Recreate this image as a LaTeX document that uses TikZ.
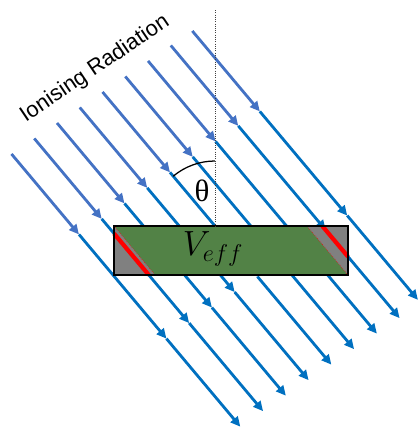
\documentclass[tikz,border=0pt]{standalone}
\usepackage{fontspec}
\setmainfont{Liberation Sans}
\newfontfamily\thetafont{Liberation Serif}
\usepackage{tikz}
\usetikzlibrary{calc}
\usetikzlibrary{arrows.meta}
\definecolor{RayLight}{RGB}{68,114,196}
\definecolor{RayDark}{RGB}{0,112,192}
\definecolor{DetGreen}{RGB}{82,130,70}
\tikzset{inray/.style={draw=RayLight,line width=2pt,-{Triangle[length=7pt,width=6.5pt]}}, outray/.style={draw=RayDark,line width=2pt,-{Triangle[length=7pt,width=6.5pt]}}, dead/.style={fill=gray,draw=red,densely dotted,line width=0.4pt}, track/.style={draw=red,line width=3pt}}

\begin{document}
\begin{tikzpicture}
\useasboundingbox (0,0) rectangle (10.5,-10.725);
\coordinate (s1) at (0.287,-3.849);
\coordinate (s2) at (0.856,-3.461);
\coordinate (s3) at (1.425,-3.074);
\coordinate (s4) at (1.994,-2.686);
\coordinate (s5) at (2.563,-2.299);
\coordinate (s6) at (3.132,-1.911);
\coordinate (s7) at (3.701,-1.523);
\coordinate (s8) at (4.270,-1.136);
\coordinate (s9) at (4.808,-0.774);
\coordinate (a1) at (1.974,-5.860);
\coordinate (a2) at (2.543,-5.472);
\coordinate (a3) at (3.112,-5.085);
\coordinate (a4) at (3.681,-4.697);
\coordinate (a5) at (4.250,-4.309);
\coordinate (a6) at (4.819,-3.922);
\coordinate (a7) at (5.388,-3.534);
\coordinate (a8) at (5.957,-3.147);
\coordinate (a9) at (6.495,-2.785);
\coordinate (m1) at (4.160,-8.465);
\coordinate (m2) at (4.729,-8.077);
\coordinate (m3) at (5.298,-7.689);
\coordinate (m4) at (5.867,-7.302);
\coordinate (m5) at (6.436,-6.914);
\coordinate (m6) at (7.005,-6.526);
\coordinate (m7) at (7.574,-6.139);
\coordinate (m8) at (8.142,-5.751);
\coordinate (m9) at (8.681,-5.389);
\coordinate (e1) at (6.008,-10.667);
\coordinate (e2) at (6.577,-10.279);
\coordinate (e3) at (7.146,-9.892);
\coordinate (e4) at (7.715,-9.504);
\coordinate (e5) at (8.284,-9.116);
\coordinate (e6) at (8.853,-8.729);
\coordinate (e7) at (9.422,-8.341);
\coordinate (e8) at (9.990,-7.953);
\coordinate (e9) at (10.448,-7.496);
\draw[outray] (a1)--(m1);
\draw[outray] (a2)--(m2);
\draw[outray] (a3)--(m3);
\draw[outray] (a4)--(m4);
\draw[outray] (a5)--(m5);
\draw[outray] (a6)--(m6);
\draw[outray] (a7)--(m7);
\draw[outray] (a8)--(m8);
\draw[outray] (a9)--(m9);
\draw[outray] (m1)--(e1);
\draw[outray] (m2)--(e2);
\draw[outray] (m3)--(e3);
\draw[outray] (m4)--(e4);
\draw[outray] (m5)--(e5);
\draw[outray] (m6)--(e6);
\draw[outray] (m7)--(e7);
\draw[outray] (m8)--(e8);
\draw[outray] (m9)--(e9);
\draw[inray] (s1)--(a1);
\draw[inray] (s2)--(a2);
\draw[inray] (s3)--(a3);
\draw[inray] (s4)--(a4);
\draw[inray] (s5)--(a5);
\draw[inray] (s6)--(a6);
\draw[inray] (s7)--(a7);
\draw[inray] (s8)--(a8);
\draw[inray] (s9)--(a9);
% detector
\coordinate (tl) at (2.85,-5.65);
\coordinate (tr) at (8.7,-5.65);
\coordinate (bl) at (2.85,-6.875);
\coordinate (br) at (8.7,-6.875);
\coordinate (p) at (5.375,-5.65);
\fill[DetGreen] (tl) rectangle (br);
\draw[dead] (tl) -- ($(bl)+(1.028,0)$) -- (bl) -- cycle;
\draw[dead] (br) -- ($(tr)+(-1.028,0)$) -- (tr) -- cycle;
\draw[track] (intersection of a2--m2 and tl--bl) -- (intersection of a2--m2 and bl--br);
\draw[track] (intersection of a8--m8 and tl--tr) -- (intersection of a8--m8 and tr--br);
\draw[line width=1.2pt] (tl) rectangle (br);
\node (veff) at (5.325,-6.225) {\fontsize{26}{30}\selectfont$V_{eff}$};
% angle
\coordinate (top) at (5.375,-0.25);
\draw[densely dotted,line width=0.6pt,black!75] (top) -- (p);
\draw[line width=0.9pt] ($(p)+(90:1.625)$) arc[start angle=90,end angle=130,radius=1.625];
\node (theta) at (5.05,-4.775) {\fontsize{22}{26}\selectfont\thetafont θ};
\node[rotate=34] (title) at (2.375,-1.725) {\fontsize{15.6}{18}\selectfont Ionising Radiation};
\end{tikzpicture}
\end{document}
